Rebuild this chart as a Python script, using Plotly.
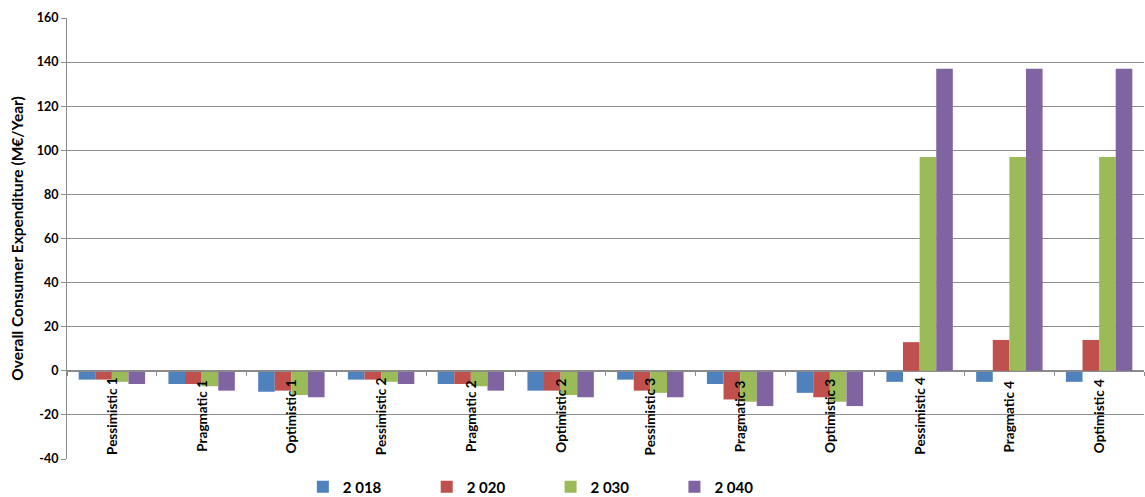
import plotly.graph_objects as go

# Scenario categories along the x axis
scenarios = [
    "Pessimistic 1", "Pragmatic 1", "Optimistic 1",
    "Pessimistic 2", "Pragmatic 2", "Optimistic 2",
    "Pessimistic 3", "Pragmatic 3", "Optimistic 3",
    "Pessimistic 4", "Pragmatic 4", "Optimistic 4",
]

# Overall consumer expenditure per year (M€/Year)
y2018 = [-4, -6, -9.5, -4, -6, -9, -4, -6, -10, -5, -5, -5]
y2020 = [-4, -6, -9, -4, -6, -9, -9, -13, -12, 13, 14, 14]
y2030 = [-5, -7, -11, -5, -7, -11, -10, -14, -14, 97, 97, 97]
y2040 = [-6, -9, -12, -6, -9, -12, -12, -16, -16, 137, 137, 137]

series_names = ["2 018", "2 020", "2 030", "2 040"]
series_values = [y2018, y2020, y2030, y2040]
series_colors = ["#4F81BD", "#C0504D", "#9BBB59", "#8064A2"]

y_ticks = list(range(-40, 161, 20))

FONT = "Lato"
GRID = "#8C8C8C"

fig = go.Figure()
for name, vals, col in zip(series_names, series_values, series_colors):
    fig.add_trace(go.Bar(
        x=scenarios, y=vals, name=name,
        marker=dict(color=col, line=dict(width=0)),
    ))

# Category labels hanging below the zero line, rotated
for s in scenarios:
    fig.add_annotation(
        x=s, y=-20.5, xref="x", yref="y", text=s, textangle=-90,
        showarrow=False, xanchor="center", yanchor="middle",
        font=dict(family=FONT, size=13.5, color="#000000", weight="bold"),
    )

fig.update_layout(
    width=1145, height=497,
    margin=dict(l=67, r=1, t=18, b=38, autoexpand=False),
    paper_bgcolor="white", plot_bgcolor="white",
    barmode="group", bargap=0.26, bargroupgap=0,
    font=dict(family=FONT, color="#000000"),
    showlegend=True,
    legend=dict(
        orientation="h", x=0.219, xanchor="left", y=-0.026, yanchor="top",
        font=dict(family=FONT, size=15, color="#000000", weight="bold"),
        entrywidth=0.115, entrywidthmode="fraction",
        itemclick=False, itemdoubleclick=False,
    ),
)

fig.update_yaxes(
    range=[-40, 160], tickvals=y_ticks, ticktext=[str(v) for v in y_ticks],
    showgrid=True, gridcolor=GRID, gridwidth=1,
    zeroline=True, zerolinecolor=GRID, zerolinewidth=1,
    showline=True, linecolor=GRID, linewidth=1,
    ticks="outside", ticklen=5, tickcolor=GRID,
    tickfont=dict(family=FONT, size=12.5, color="#000000", weight="bold"),
    title=dict(text="Overall Consumer Expenditure (M€/Year)",
               font=dict(family=FONT, size=15.5, color="#000000", weight="bold"),
               standoff=9),
)

fig.update_xaxes(
    type="category", anchor="free", position=0.2,
    showline=True, linecolor=GRID, linewidth=1,
    ticks="outside", tickson="boundaries", ticklen=4, tickcolor=GRID,
    showticklabels=False, showgrid=False,
)

fig.write_html("out.html")
